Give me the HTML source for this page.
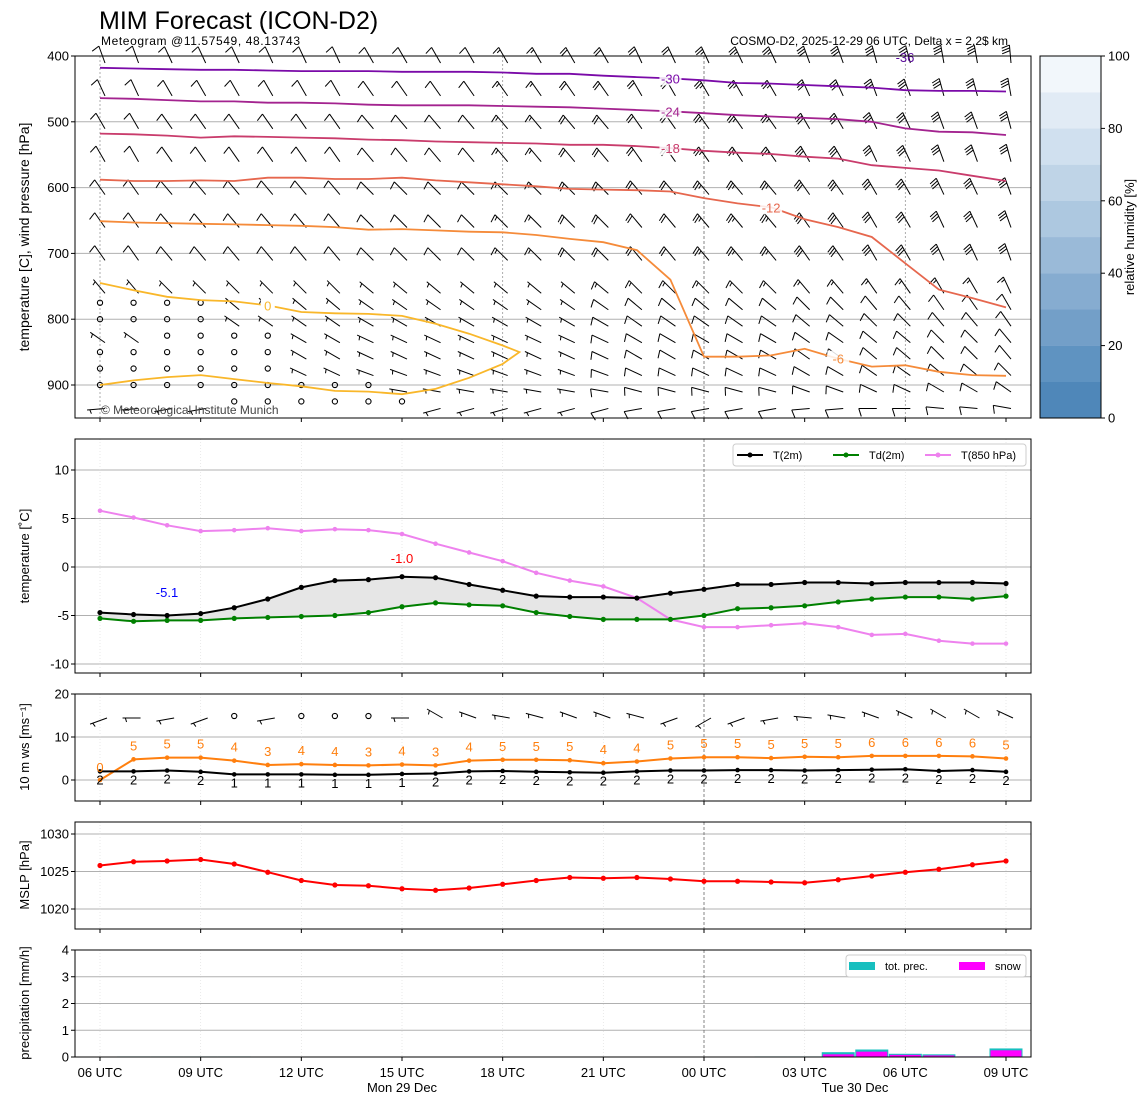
<!DOCTYPE html>
<html><head><meta charset="utf-8"><style>
body{margin:0;background:#fff}
svg{font-family:"Liberation Sans","DejaVu Sans",sans-serif}
</style></head><body>
<svg id="c" width="1148" height="1105" viewBox="0 0 1148 1105" xmlns="http://www.w3.org/2000/svg">
<rect width="1148" height="1105" fill="#fff"/>
<text x="99" y="29" font-size="25">MIM Forecast (ICON-D2)</text>
<text x="101" y="45" font-size="12" textLength="199">Meteogram @11.57549, 48.13743</text>
<text x="1008" y="45" font-size="12" text-anchor="end">COSMO-D2, 2025-12-29 06 UTC, Delta x = 2.2$ km</text>
<g id="g"></g>
</svg>
<script>
// ---------- data ----------
const hours = [0,1,2,3,4,5,6,7,8,9,10,11,12,13,14,15,16,17,18,19,20,21,22,23,24,25,26,27];
const xTickLabels = ["06 UTC","09 UTC","12 UTC","15 UTC","18 UTC","21 UTC","00 UTC","03 UTC","06 UTC","09 UTC"];
const t2m = [-4.7,-4.9,-5.0,-4.8,-4.2,-3.3,-2.1,-1.4,-1.3,-1.0,-1.1,-1.8,-2.4,-3.0,-3.1,-3.1,-3.2,-2.7,-2.3,-1.8,-1.8,-1.6,-1.6,-1.7,-1.6,-1.6,-1.6,-1.7];
const td2m = [-5.3,-5.6,-5.5,-5.5,-5.3,-5.2,-5.1,-5.0,-4.7,-4.1,-3.7,-3.9,-4.0,-4.7,-5.1,-5.4,-5.4,-5.4,-5.0,-4.3,-4.2,-4.0,-3.6,-3.3,-3.1,-3.1,-3.3,-3.0];
const t850 = [5.8,5.1,4.3,3.7,3.8,4.0,3.7,3.9,3.8,3.4,2.4,1.5,0.6,-0.6,-1.4,-2.0,-3.2,-5.4,-6.2,-6.2,-6.0,-5.8,-6.2,-7.0,-6.9,-7.6,-7.9,-7.9];
const gust = [0.0,4.8,5.2,5.2,4.5,3.5,3.7,3.5,3.4,3.6,3.4,4.5,4.7,4.7,4.6,3.9,4.3,5.0,5.3,5.3,5.1,5.4,5.3,5.6,5.6,5.6,5.5,5.0];
const gustLabels = [0,5,5,5,4,3,4,4,3,4,3,4,5,5,5,4,4,5,5,5,5,5,5,6,6,6,6,5];
const ws10 = [2.0,2.0,2.2,1.9,1.3,1.3,1.3,1.2,1.2,1.4,1.5,2.0,2.1,1.9,1.8,1.7,2.0,2.2,2.2,2.3,2.3,2.2,2.3,2.4,2.5,2.1,2.3,1.9];
const wsLabels = [2,2,2,2,1,1,1,1,1,1,2,2,2,2,2,2,2,2,2,2,2,2,2,2,2,2,2,2];
const wd10 = [250,270,260,250,0,260,0,0,0,270,300,290,280,285,290,290,285,250,240,250,260,275,280,290,295,300,300,295];
const calm10 = [0,0,0,0,1,0,1,1,1,0,0,0,0,0,0,0,0,0,0,0,0,0,0,0,0,0,0,0];
const mslp = [1025.8,1026.3,1026.4,1026.6,1026.0,1024.9,1023.8,1023.2,1023.1,1022.7,1022.5,1022.8,1023.3,1023.8,1024.2,1024.1,1024.2,1024.0,1023.7,1023.7,1023.6,1023.5,1023.9,1024.4,1024.9,1025.3,1025.9,1026.4];
const precTot = [0,0.02,0.02,0.02,0.02,0,0,0,0,0,0,0,0,0,0,0,0,0,0,0,0.02,0.02,0.18,0.28,0.12,0.10,0.02,0.32];
const precSnow = [0,0.01,0.01,0.01,0.01,0,0,0,0,0,0,0,0,0,0,0,0,0,0,0,0.01,0.01,0.10,0.20,0.08,0.06,0.02,0.25];
const isoM30 = [418,419,420,421,421,422,423,423,423,424,424,424,425,427,427,430,432,434,437,441,442,444,446,448,452,453,453,454];
const isoM24 = [464,465,467,469,469,471,471,472,474,475,475,475,476,477,478,480,482,484,487,490,492,494,496,500,510,515,516,520];
const isoM18 = [518,519,521,524,522,523,524,525,527,528,530,531,532,533,535,535,537,540,544,547,549,553,556,566,570,574,582,590];
const isoM12 = [588,590,590,589,590,585,585,587,587,585,589,592,595,598,602,603,604,606,616,624,630,648,660,675,715,755,768,782];
const isoM6 = [651,653,654,655,656,657,658,660,664,663,665,667,668,672,678,683,695,740,857,857,855,845,860,872,870,880,885,886];
const iso0Upper = [745,756,766,771,773,779,789,791,792,795,807,822,840];
const iso0Lower = [900,893,888,885,891,897,902,909,910,914,906,889,868];
const levels = [400,450,500,550,600,650,700,750,775,800,825,850,875,900,925];
const dirByLevel = [335,330,325,325,320,320,320,315,310,305,300,300,295,285,260];
const spdByLevel = [10,10,10,10,10,10,10,7,5,5,5,5,5,5,5];
const spdFactorByHour = [1,1,1,1,1,1,1,1,1,1,1,1,1.3,1.5,1.8,2,2,2.2,2.5,2.5,2.5,2.8,2.8,3,3,3,3,3];
const dirShiftByHour = [5,5,0,0,0,0,0,0,-5,-5,-5,-5,-5,-5,-5,-5,0,0,0,0,0,5,5,10,10,15,15,20];
const calmRanges = [[8,0,3],[9,0,3],[10,2,5],[11,0,5],[12,0,5],[13,0,8],[14,4,9]];
const rhTicks = [0,20,40,60,80,100];

// ---------- scales ----------
const NS="http://www.w3.org/2000/svg";
const G=document.getElementById('g');
const X0=100, DX=(1006-100)/27;
const xs=h=>X0+h*DX;
const yP=p=>56+(p-400)*0.658;
const yT=t=>567-t*9.7;
const yW=w=>780-w*4.3;
const yM=p=>909-(p-1020)*7.5;
const yR=r=>1057-r*26.75;
function el(tag,attrs,parent){const e=document.createElementNS(NS,tag);for(const k in attrs)e.setAttribute(k,attrs[k]);(parent||G).appendChild(e);return e;}
function txt(x,y,s,size,anchor,fill,parent){const t=el('text',{x:x,y:y,'font-size':size,'text-anchor':anchor||'start',fill:fill||'#000'},parent);t.textContent=s;return t;}
function poly(pts,stroke,w,parent){return el('polyline',{points:pts.map(p=>p[0].toFixed(1)+','+p[1].toFixed(1)).join(' '),fill:'none',stroke:stroke,'stroke-width':w},parent);}

const panels=[{n:'upper-air-panel',t:56,b:418},{n:'temperature-panel',t:439,b:673},{n:'wind-panel',t:694,b:801},{n:'mslp-panel',t:822,b:929},{n:'precip-panel',t:950,b:1057}];
const L=75,R=1031;
function hgrid(vals,f){vals.forEach(v=>{const y=f(v);const l=el('line',{x1:L,x2:R,y1:y,y2:y,stroke:'#b0b0b0','stroke-width':1});


const t=txt(69,y+4.5,String(v),13,'end');


el('line',{x1:L-4,x2:L,y1:y,y2:y,stroke:'#000'});});}
hgrid([400,500,600,700,800,900],yP);
hgrid([-10,-5,0,5,10],yT);
hgrid([0,10,20],yW);
hgrid([1020,1025,1030],yM);
hgrid([0,1,2,3,4],yR);
[0,12,24].forEach(h=>{el('line',{x1:xs(h),x2:xs(h),y1:56,y2:418,stroke:'#999','stroke-width':0.8,'stroke-dasharray':'2,2'});});
panels.forEach(p=>{const l=el('line',{x1:xs(18),x2:xs(18),y1:p.t,y2:p.b,stroke:'#666','stroke-width':0.8,'stroke-dasharray':'3,2'});

});
[0,3,6,9,12,15,21,24,27].forEach(h=>{[1,2,3,4].forEach(i=>{const p=panels[i];el('line',{x1:xs(h),x2:xs(h),y1:p.t,y2:p.b,stroke:'#e4e4e4','stroke-width':0.8,'stroke-dasharray':'1,2'});});});

// ---------- wind barbs (pivot at tail, barbs at tip) ----------
function barb(cx,cy,d,s,parent){
  const r=d*Math.PI/180, ux=Math.sin(r), uy=-Math.cos(r);
  const Lb=18;
  const tx=cx+ux*Lb, ty=cy+uy*Lb;
  el('line',{x1:cx,y1:cy,x2:tx,y2:ty,stroke:'#000','stroke-width':1},parent);
  const px=uy, py=-ux;
  let rem=Math.round(s/5)*5, pos=0;
  while(rem>=10){const bx=tx-ux*pos,by=ty-uy*pos;el('line',{x1:bx,y1:by,x2:bx+px*8-ux*2.5,y2:by+py*8-uy*2.5,stroke:'#000','stroke-width':1},parent);rem-=10;pos+=2.8;}
  if(rem>=5){if(pos===0)pos=2.8;const bx=tx-ux*pos,by=ty-uy*pos;el('line',{x1:bx,y1:by,x2:bx+px*4-ux*1.2,y2:by+py*4-uy*1.2,stroke:'#000','stroke-width':1},parent);}
}
const barbG=el('g',{});


levels.forEach((p,i)=>{hours.forEach(h=>{
  const calm=calmRanges.some(c=>c[0]===i&&h>=c[1]&&h<=c[2]);
  const x=xs(h),y=yP(p);
  if(calm){el('circle',{cx:x,cy:y,r:2.6,fill:'none',stroke:'#000','stroke-width':1.1},barbG);}
  else {const s=i<7?spdByLevel[i]*spdFactorByHour[h]:spdByLevel[i]*(h>14?2:1);barb(x+5,y+7,dirByLevel[i]+dirShiftByHour[h],s,barbG);}
});});

// ---------- isotherms ----------
const isoG=el('g',{});


const isoDefs=[[isoM30,'#7a0aa8','-30',17],[isoM24,'#a3238f','-24',17],[isoM18,'#c93c6c','-18',17],[isoM12,'#e6674e','-12',20],[isoM6,'#f58b3a','-6',22]];
isoDefs.forEach(d=>{const l=poly(hours.map(h=>[xs(h),yP(d[0][h])]),d[1],1.8,isoG);
  
  
  const hx=d[3], x=xs(hx), y=yP(d[0][hx]);
  el('rect',{x:x-11,y:y-8,width:22,height:15,fill:'#fff','fill-opacity':0.85},isoG);
  txt(x,y+5,d[2],13,'middle',d[1],isoG);
});
const z0=iso0Upper.map((p,i)=>[xs(i),yP(p)]).concat([[xs(12.5),yP(850)]]).concat(iso0Lower.map((p,i)=>[xs(i),yP(p)]).reverse());
const z0l=poly(z0,'#f9b72a',1.8,isoG);


el('rect',{x:xs(5)-7,y:yP(iso0Upper[5])-8,width:14,height:15,fill:'#fff'},isoG);
txt(xs(5),yP(iso0Upper[5])+5,'0',13,'middle','#f9b72a',isoG);
txt(905,62,'-36',13,'middle','#5a0a9a',isoG);
txt(101,414,'© Meteorological Institute Munich',12,'start','#444');

// ---------- temperature ----------
const band=hours.map(h=>[xs(h),yT(t2m[h])]).concat(hours.slice().reverse().map(h=>[xs(h),yT(td2m[h])]));
const bf=el('polygon',{points:band.map(p=>p.join(',')).join(' '),fill:'#e6e6e6',stroke:'#999','stroke-width':0.5});


function series(arr,f,color,name,r){const g=el('g',{});


poly(hours.map(h=>[xs(h),f(arr[h])]),color,2,g);hours.forEach(h=>el('circle',{cx:xs(h),cy:f(arr[h]),r:r||2.6,fill:color},g));return g;}
series(t850,yT,'#ee82ee','t850-line',2.3);
series(td2m,yT,'#008000','td2m-line');
series(t2m,yT,'#000','t2m-line');
txt(167,597,'-5.1',13,'middle','#0000ff');
txt(402,563,'-1.0',13,'middle','#ff0000');

// ---------- wind 10m ----------
series(gust,yW,'#ff7f0e','gust-line',2.3);
series(ws10,yW,'#000','wind-speed-line',2.3);
hours.forEach(h=>{const t=txt(xs(h),h===0?yW(gust[h])-8:yW(gust[h])-9,String(gustLabels[h]),13,'middle','#ff7f0e');


const u=txt(xs(h),yW(ws10[h])+13,String(wsLabels[h]),13,'middle','#000');


if(calm10[h])el('circle',{cx:xs(h),cy:716,r:2.6,fill:'none',stroke:'#000','stroke-width':1.1});else barb(xs(h)+7,718,wd10[h],5);});

// ---------- MSLP ----------
series(mslp,yM,'#ff0000','mslp-line',2.6);

// ---------- precip ----------
hours.forEach(h=>{const w=33;if(precTot[h]>0){const b=el('rect',{x:xs(h)-w/2,y:yR(precTot[h]),width:w,height:yR(0)-yR(precTot[h]),fill:'#17bfbf'});

}
if(precSnow[h]>0){const s=el('rect',{x:xs(h)-w/2+1,y:yR(precSnow[h]),width:w-2,height:yR(0)-yR(precSnow[h]),fill:'#ff00ff'});

}});

// ---------- frames ----------
panels.forEach(p=>{const r=el('rect',{x:L,y:p.t,width:R-L,height:p.b-p.t,fill:'none',stroke:'#000','stroke-width':1});


xTickLabels.forEach((s,i)=>el('line',{x1:xs(i*3),x2:xs(i*3),y1:p.b,y2:p.b+4,stroke:'#000'}));});
xTickLabels.forEach((s,i)=>{const t=txt(xs(i*3),1077,s,13,'middle');

});
txt(402,1092,'Mon 29 Dec',13,'middle');
txt(855,1092,'Tue 30 Dec',13,'middle');

[['temperature [C], wind pressure [hPa]',237,14],['temperature [˚C]',556,13],['10 m ws [ms⁻¹]',747,13],['MSLP [hPa]',875,13],['precipitation [mm/h]',1003,13]].forEach(d=>{
const t=txt(0,0,d[0],d[2],'middle');t.setAttribute('transform','translate(29,'+d[1]+') rotate(-90)');

});

// colorbar
const cb=el('g',{});


const cbCols=['#4f87b9','#5f93c1','#739fc8','#86acd0','#9abad8','#adc8e0','#bfd4e7','#d0e0ef','#e1ebf5','#f2f7fb'];
cbCols.forEach((c,i)=>el('rect',{x:1040,y:418-(i+1)*36.2,width:61,height:36.4,fill:c},cb));
el('rect',{x:1040,y:56,width:61,height:362,fill:'none',stroke:'#000'},cb);
rhTicks.forEach(v=>{const y=418-v*3.62;el('line',{x1:1101,x2:1105,y1:y,y2:y,stroke:'#000'},cb);txt(1108,y+4.5,String(v),13,'start','#000',cb);});
const rt=txt(0,0,'relative humidity [%]',13,'middle');rt.setAttribute('transform','translate(1134,237) rotate(-90)');



function legend(x,y,w,items,name){const g=el('g',{});


el('rect',{x:x,y:y,width:w,height:22,rx:3,fill:'#fff',stroke:'#ccc'},g);
items.forEach(it=>{if(it.bar)el('rect',{x:it.x,y:y+7,width:26,height:8,fill:it.c},g);else{el('line',{x1:it.x,x2:it.x+26,y1:y+11,y2:y+11,stroke:it.c,'stroke-width':2},g);el('circle',{cx:it.x+13,cy:y+11,r:2.5,fill:it.c},g);}
const t=txt(it.x+36,y+15,it.t,11,'start','#000',g);

});}
legend(733,444,293,[{x:737,c:'#000',t:'T(2m)'},{x:833,c:'#008000',t:'Td(2m)'},{x:925,c:'#ee82ee',t:'T(850 hPa)'}],'temperature-legend');
legend(846,955,180,[{x:849,c:'#17bfbf',t:'tot. prec.',bar:1},{x:959,c:'#ff00ff',t:'snow',bar:1}],'precip-legend');
</script>
</body></html>
